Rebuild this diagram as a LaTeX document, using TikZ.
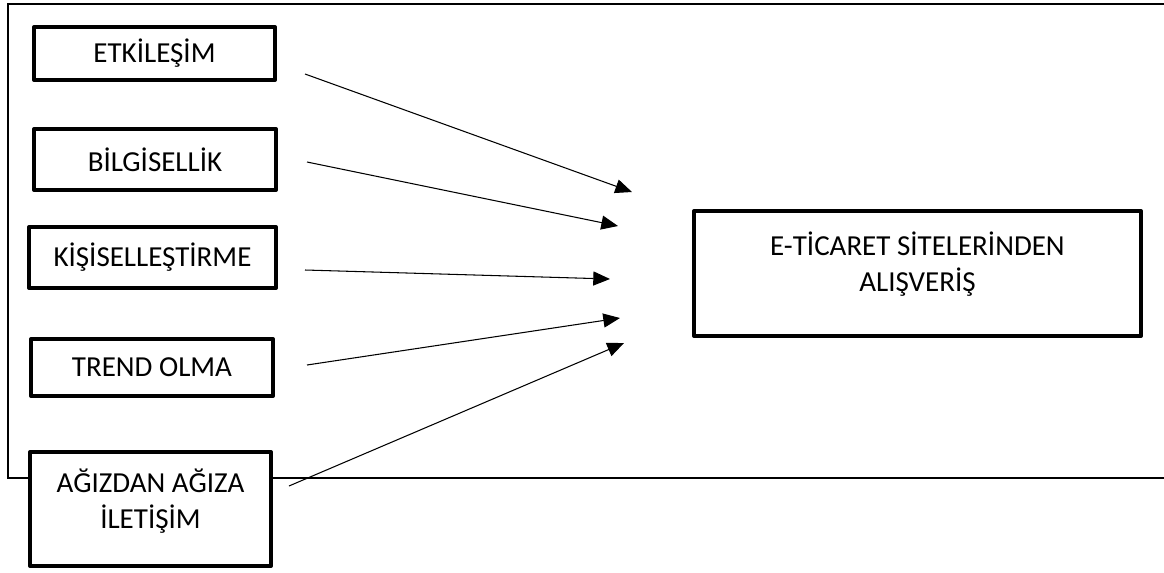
\documentclass[tikz,border=0pt]{standalone}
\usepackage{fontspec}
\setmainfont{Carlito}
\usetikzlibrary{arrows.meta}
\tikzset{
  factor/.style={draw, line width=2.3pt, line join=round, fill=white, align=center, inner sep=0pt},
  effect/.style={-{Triangle[length=9.5pt,width=8pt]}, line width=0.6pt},
}
\begin{document}
\begin{tikzpicture}[x=0.02cm, y=-0.02cm, font=\fontsize{16.5}{20.5}\selectfont]
\useasboundingbox (0,0) rectangle (1164,572);
\clip (0,0) rectangle (1164,572);
% outer frame, its right side runs off the page
\draw[line width=1.2pt] (1180,4) -- (8,4) -- (8,478) -- (1180,478);
% factors
\node[factor, minimum width=4.82cm, minimum height=1.06cm] (etk) at (154.5,53.5) {ETKİLEŞİM};
\node[factor, minimum width=4.84cm, minimum height=1.22cm] (bil) at (155,159.5) {BİLGİSELLİK};
\node[factor, minimum width=4.94cm, minimum height=1.22cm] (kis) at (152.5,257.5) {KİŞİSELLEŞTİRME};
\node[factor, minimum width=4.84cm, minimum height=1.14cm] (trd) at (152,367.5) {TREND OLMA};
\node[factor, minimum width=4.82cm, minimum height=2.28cm, text depth=0.4cm] (agz) at (150.5,509) {AĞIZDAN AĞIZA\\İLETİŞİM};
% outcome
\node[factor, minimum width=8.94cm, minimum height=2.5cm, text depth=0.48cm] (alis) at (917.5,273.5) {E-TİCARET SİTELERİNDEN\\ALIŞVERİŞ};
% arrows, free at both ends
\coordinate (s1) at (305,74);  \coordinate (t1) at (632,192);
\coordinate (s2) at (307,162); \coordinate (t2) at (618,226);
\coordinate (s3) at (305,270); \coordinate (t3) at (610,279);
\coordinate (s4) at (307,365); \coordinate (t4) at (620,318);
\coordinate (s5) at (289,486); \coordinate (t5) at (624,343);
\foreach \i in {1,...,5}
  \draw[effect] (s\i) -- (t\i);
\end{tikzpicture}
\end{document}
